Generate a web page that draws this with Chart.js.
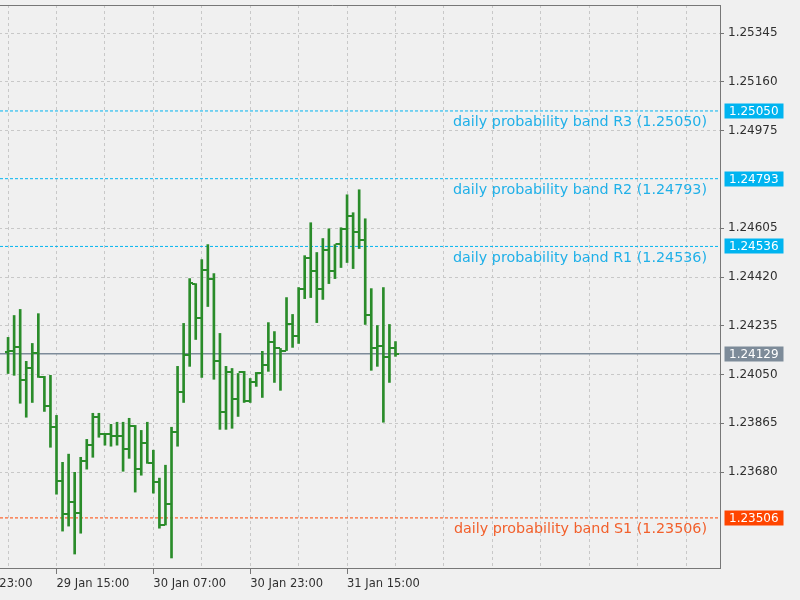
<!DOCTYPE html>
<html>
<head>
<meta charset="utf-8">
<script src="https://cdn.jsdelivr.net/npm/chart.js@4.4.1/dist/chart.umd.min.js"></script>
<style>
html,body{margin:0;padding:0;background:#f0f0f0;overflow:hidden;width:800px;height:600px}
#wrap{position:absolute;left:-60px;top:0;width:860px;height:600px}
</style>
</head>
<body>
<div id="wrap"><canvas id="chart" width="860" height="600"></canvas></div>
<script>

/* ================================
   DATA  (H1 bars, index 0 = 29 Jan 07:00)
================================ */

const opens = [
1.24134,1.24138,1.24153,1.24028,1.24073,1.24130,1.24039,1.23929,1.23850,1.23645,
1.23520,1.23566,1.23524,1.23721,1.23782,1.23888,1.23823,1.23823,1.23816,1.23816,
1.23766,1.23854,1.23691,1.23789,1.23713,1.23641,1.23479,1.23558,1.23831,1.23982,
1.24126,1.24395,1.24266,1.24448,1.24414,1.24103,1.23907,1.24058,1.23956,1.24058,
1.23948,1.24020,1.24054,1.24088,1.24175,1.24149,1.24141,1.24240,1.24198,1.24376,
1.24494,1.24441,1.24376,1.24524,1.24441,1.24547,1.24603,1.24653,1.24592,1.24562,
1.24274,1.24149,1.24160,1.24115,1.24149]

const highs = [
1.24191,1.24274,1.24297,1.24100,1.24168,1.24281,1.24043,1.24047,1.23895,1.23717,
1.23748,1.23679,1.23736,1.23804,1.23903,1.23903,1.23827,1.23861,1.23869,1.23869,
1.23884,1.23857,1.23838,1.23869,1.23763,1.23657,1.23706,1.23850,1.24081,1.24244,
1.24414,1.24395,1.24486,1.24543,1.24433,1.24206,1.24081,1.24073,1.24054,1.24062,
1.24035,1.24058,1.24138,1.24247,1.24213,1.24149,1.24342,1.24278,1.24380,1.24501,
1.24626,1.24513,1.24566,1.24603,1.24543,1.24607,1.24732,1.24664,1.24751,1.24641,
1.24376,1.24236,1.24380,1.24240,1.24175]

const lows = [
1.24054,1.24047,1.23941,1.23888,1.23944,1.24039,1.23910,1.23774,1.23596,1.23456,
1.23475,1.23369,1.23448,1.23691,1.23736,1.23812,1.23782,1.23778,1.23782,1.23683,
1.23732,1.23604,1.23668,1.23713,1.23600,1.23467,1.23479,1.23354,1.23778,1.23944,
1.24081,1.24183,1.24039,1.24308,1.24032,1.23842,1.23842,1.23846,1.23891,1.23944,
1.23944,1.24005,1.23963,1.24062,1.24020,1.23990,1.24141,1.24153,1.24168,1.24338,
1.24342,1.24247,1.24335,1.24395,1.24414,1.24456,1.24475,1.24452,1.24528,1.24240,
1.24066,1.24081,1.23869,1.24020,1.24119]

const closes = [
1.24138,1.24153,1.24028,1.24073,1.24130,1.24039,1.23929,1.23850,1.23645,1.23520,
1.23566,1.23524,1.23721,1.23782,1.23888,1.23823,1.23823,1.23816,1.23816,1.23766,
1.23854,1.23691,1.23789,1.23713,1.23641,1.23479,1.23558,1.23831,1.23982,1.24126,
1.24399,1.24266,1.24448,1.24414,1.24103,1.23907,1.24058,1.23956,1.24058,1.23948,
1.24020,1.24054,1.24088,1.24175,1.24149,1.24141,1.24240,1.24198,1.24376,1.24494,
1.24441,1.24376,1.24524,1.24441,1.24547,1.24603,1.24653,1.24592,1.24562,1.24274,
1.24149,1.24160,1.24115,1.24149,1.24129]

const bandNames = ["R3","R2","R1","S1"]
const bandValues = [1.25050,1.24793,1.24536,1.23506]
const bidPrice = 1.24129

const yTicks = [1.25345,1.25160,1.24975,1.24605,1.24420,1.24235,1.24050,1.23865,1.23680]
const xTickHours = [-8,8,24,40,56]
const xTickLabels = ["28 Jan 23:00","29 Jan 15:00","30 Jan 07:00","30 Jan 23:00","31 Jan 15:00"]
const xGridStep = 8

/* ================================
   STYLE
================================ */

const barColor = "#2a8c2a"
const resColor = "#00b4f0"
const resText = "#20b0e8"
const supColor = "#ff4500"
const supText = "#f2602c"
const bidColor = "#7d8b99"
const gridColor = "#c8c8c8"
const axisColor = "#777777"
const textColor = "#303030"

const xMin = -10.42
const xMax = 117.61
const yMin = 1.23316
const yMax = 1.25452

function tickImage(side){
const c = document.createElement("canvas")
c.width = 7
c.height = 2
const g = c.getContext("2d")
g.fillStyle = barColor
g.fillRect(side==="left" ? 0 : 4, 0, 3, 2)
return c
}

const openImg = tickImage("left")
const closeImg = tickImage("right")

function flatLine(v){
return [{x:xMin,y:v},{x:xMax,y:v}]
}

/* ================================
   OVERLAY: labels, price boxes, frame
================================ */

const overlay = {
id:"overlay",
afterDraw(chart){
const ctx = chart.ctx
const area = chart.chartArea
const ys = chart.scales.y

ctx.save()

/* top frame */
ctx.strokeStyle = axisColor
ctx.lineWidth = 1
ctx.beginPath()
ctx.moveTo(area.left, area.top + 0.5)
ctx.lineTo(area.right, area.top + 0.5)
ctx.stroke()

/* band labels */
bandValues.forEach((v,i)=>{
const y = ys.getPixelForValue(v)
const isSup = bandNames[i].startsWith("S")
ctx.font = '14.3px "DejaVu Sans"'
ctx.textAlign = "right"
ctx.textBaseline = "alphabetic"
ctx.fillStyle = isSup ? supText : resText
ctx.fillText("daily probability band " + bandNames[i] + " (" + v.toFixed(5) + ")", area.right - 13, y + 15.5)
priceBox(ctx, area, y, v.toFixed(5), isSup ? supColor : resColor)
})

priceBox(ctx, area, ys.getPixelForValue(bidPrice), bidPrice.toFixed(5), bidColor)

ctx.restore()
}
}

function priceBox(ctx, area, y, text, bg){
ctx.fillStyle = bg
ctx.fillRect(area.right + 4.5, Math.round(y) - 7.5, 59, 15)
ctx.fillStyle = "#ffffff"
ctx.font = '12px "DejaVu Sans"'
ctx.textAlign = "left"
ctx.textBaseline = "middle"
ctx.fillText(text, area.right + 9, Math.round(y) + 0.5)
}

/* ================================
   CHART
================================ */

const datasets = [{
type:"bar",
data:highs.map((h,i)=>({x:i,y:[lows[i],h]})),
backgroundColor:barColor,
borderWidth:0,
barThickness:2,
order:1
},{
type:"scatter",
data:opens.map((v,i)=>({x:i,y:v})),
pointStyle:openImg,
pointRadius:3,
order:0
},{
type:"scatter",
data:closes.map((v,i)=>({x:i,y:v})),
pointStyle:closeImg,
pointRadius:3,
order:0
},{
type:"line",
data:flatLine(bidPrice),
borderColor:bidColor,
borderWidth:1.5,
pointRadius:0,
order:3
}]

bandValues.forEach((v,i)=>{
datasets.push({
type:"line",
data:flatLine(v),
borderColor:bandNames[i].startsWith("S") ? supColor : resColor,
borderWidth:1,
borderDash:[3,2],
pointRadius:0,
order:2
})
})

new Chart(document.getElementById("chart"),{
type:"bar",
data:{datasets:datasets},
options:{
responsive:false,
animation:false,
devicePixelRatio:1,
events:[],
layout:{padding:{top:4,left:0,right:0,bottom:0}},
plugins:{legend:{display:false},tooltip:{enabled:false}},
scales:{
x:{
type:"linear",
position:"bottom",
min:xMin,
max:xMax,
offset:false,
afterBuildTicks(scale){
const t = []
for(let h=-8; h<=xMax; h+=xGridStep){ t.push({value:h}) }
scale.ticks = t
},
afterFit(scale){
scale.height = 32
scale.paddingLeft = 0
scale.paddingRight = 0
},
grid:{
color:gridColor,
offset:false,
tickLength:6,
tickColor:ctx => xTickHours.includes(ctx.tick && ctx.tick.value) ? axisColor : "rgba(0,0,0,0)"
},
border:{display:true,color:axisColor,width:1,dash:[3,3]},
ticks:{
autoSkip:false,
maxRotation:0,
align:"start",
padding:3,
color:textColor,
font:{family:"DejaVu Sans",size:11.5},
callback:v => {
const k = xTickHours.indexOf(v)
return k>=0 ? xTickLabels[k] : ""
}
}
},
y:{
type:"linear",
position:"right",
min:yMin,
max:yMax,
afterBuildTicks(scale){ scale.ticks = yTicks.map(v=>({value:v})) },
afterFit(scale){
scale.width = 80
scale.paddingTop = 0
scale.paddingBottom = 0
},
grid:{color:gridColor,tickLength:4,tickColor:axisColor},
border:{display:true,color:axisColor,width:1,dash:[3,3]},
ticks:{
padding:4,
color:textColor,
font:{family:"DejaVu Sans",size:12},
callback:v => Number(v).toFixed(5)
}
}
}
},
plugins:[overlay]
})

</script>
</body>
</html>
